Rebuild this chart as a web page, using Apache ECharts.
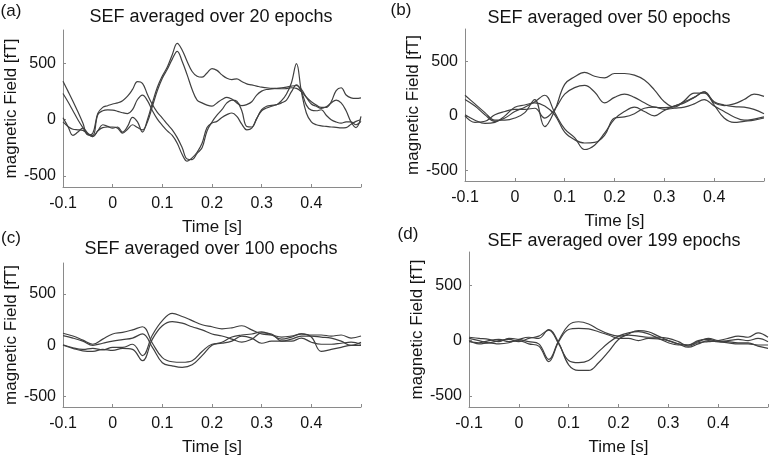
<!DOCTYPE html>
<html>
<head>
<meta charset="utf-8">
<script src="https://cdn.jsdelivr.net/npm/echarts@6/dist/echarts.min.js"></script>
<style>
  html, body { margin: 0; padding: 0; background: #fff; }
  #chart { width: 769px; height: 457px; }
</style>
</head>
<body>
<div id="chart"></div>
<script>
// time axes (s)
const timeFine = [-0.10,-0.09,-0.08,-0.07,-0.06,-0.05,-0.04,-0.03,-0.02,-0.01,
  0.00,0.01,0.02,0.03,0.04,0.05,0.06,0.07,0.08,0.09,
  0.10,0.11,0.12,0.13,0.14,0.15,0.16,0.17,0.18,0.19,
  0.20,0.21,0.22,0.23,0.24,0.25,0.26,0.27,0.28,0.29,
  0.30,0.31,0.32,0.33,0.34,0.35,0.36,0.37,0.38,0.39,
  0.40,0.41,0.42,0.43,0.44,0.45,0.46,0.47,0.48,0.49,0.50];
const timeCoarse = [-0.10,-0.08,-0.06,-0.04,-0.02,0.00,0.02,0.04,0.06,0.08,
  0.10,0.12,0.14,0.16,0.18,0.20,0.22,0.24,0.26,0.28,
  0.30,0.32,0.34,0.36,0.38,0.40,0.42,0.44,0.46,0.48,0.50];

// (a) 20 epochs, fT
const a1 = [343,255,165,70,-30,-135,-120,55,110,125,
  140,150,170,210,270,340,325,225,135,65,
  15,-40,-90,-160,-250,-350,-355,-300,-250,-100,
  -20,40,90,150,175,165,80,-60,-65,10,
  90,120,128,134,170,230,330,500,250,60,
  -20,-45,-55,-60,-65,-68,-72,-70,-40,-15,0];
const a2 = [234,160,80,0,-70,-130,-140,45,80,88,
  85,75,62,55,90,180,220,170,80,5,
  -50,-100,-140,-210,-310,-370,-340,-290,-210,-70,
  -30,-15,20,45,60,30,-40,-90,-75,10,
  80,104,120,134,150,175,250,310,250,130,
  85,80,89,40,0,-20,-30,-20,-20,-45,-15];
const a3 = [18,-60,-140,-110,-75,-120,-150,-100,-45,-60,
  -75,-65,-110,-60,20,-20,-110,0,150,290,
  390,470,580,680,620,520,430,388,379,417,
  456,440,400,370,358,365,340,320,310,300,
  290,285,280,278,276,278,285,280,250,200,
  160,130,110,110,160,260,285,220,195,190,195];
const a4 = [-20,-60,-85,-90,-95,-130,-150,-100,-70,-65,
  -65,-75,-120,-85,-45,-70,-90,-20,120,260,
  370,450,540,610,520,400,270,175,150,130,
  121,150,180,200,185,150,125,135,160,220,
  255,270,275,280,285,290,300,305,270,200,
  140,120,100,115,150,175,150,80,-20,-70,30];

// (b) 50 epochs
const b1 = [190,110,30,-40,-40,-20,30,150,-100,50,
  290,360,400,365,350,390,390,375,330,240,
  130,80,140,210,210,120,95,110,150,200,180];
const b2 = [0,-60,-50,10,40,60,60,70,-20,60,
  200,260,280,220,120,170,200,170,120,80,
  75,90,130,170,220,130,100,85,80,60,20];
const b3 = [150,90,10,-50,-20,40,80,130,190,30,
  -120,-200,-310,-270,-160,-30,40,80,40,0,
  50,90,120,170,220,100,-20,-60,-50,-40,-20];
const b4 = [10,-40,-70,-60,0,80,100,120,90,10,
  -150,-220,-250,-245,-180,-20,-10,20,70,80,
  60,70,80,110,150,90,40,-10,-40,-30,-10];

// (c) 100 epochs
const c1 = [117,90,50,10,60,110,125,150,180,20,
  -120,-160,-165,-150,-60,10,20,40,90,70,
  20,40,40,40,70,30,10,10,20,30,10];
const c2 = [94,70,40,0,20,40,55,70,110,-20,
  -170,-200,-215,-190,-100,0,30,80,100,110,
  130,100,60,80,110,80,-60,-40,-20,0,0];
const c3 = [5,-25,-40,-30,-45,-20,-20,10,-100,100,
  240,310,280,240,200,180,160,170,190,150,
  110,100,80,90,110,100,100,90,100,70,90];
const c4 = [0,-30,-55,-60,-40,-50,-30,-40,-150,60,
  190,230,215,180,150,110,90,60,30,60,
  120,110,40,60,90,90,80,70,40,0,30];

// (d) 199 epochs
const d1 = [30,20,10,-10,20,10,-10,-30,-170,0,
  140,170,150,100,60,40,50,40,30,30,
  20,-10,-50,-20,-10,0,20,40,30,70,30];
const d2 = [-10,-20,0,10,-10,0,-30,-50,-190,-10,
  100,110,105,80,50,20,20,0,20,15,
  0,-30,-60,-30,0,-10,0,10,0,20,-10];
const d3 = [20,0,-20,0,10,-10,20,40,95,-30,
  -180,-200,-180,-100,-20,40,70,80,60,20,
  -20,-40,-40,0,10,-10,-20,-30,-30,-40,-40];
const d4 = [0,-30,-20,-30,-20,10,30,20,100,-20,
  -220,-270,-270,-200,-100,10,60,90,80,40,
  0,-30,-40,-10,20,0,-10,-20,-20,-50,-70];

const xTicks = [-0.1, 0, 0.1, 0.2, 0.3, 0.4, 0.5];
const xLabels = [-0.1, 0, 0.1, 0.2, 0.3, 0.4];
const yTicks = [-500, 0, 500];

const panels = [
  { title: 'SEF averaged over 20 epochs', tag: '(a)', time: timeFine, lines: [a1, a2, a3, a4],
    grid: { left: 63, top: 30, width: 298, height: 157 }, titlePos: [211, 17], tagPos: [11, 11] },
  { title: 'SEF averaged over 50 epochs', tag: '(b)', time: timeCoarse, lines: [b1, b2, b3, b4],
    grid: { left: 465, top: 29, width: 299, height: 152 }, titlePos: [609, 18], tagPos: [401, 10] },
  { title: 'SEF averaged over 100 epochs', tag: '(c)', time: timeCoarse, lines: [c1, c2, c3, c4],
    grid: { left: 63, top: 263, width: 298, height: 144 }, titlePos: [211, 249], tagPos: [11, 238] },
  { title: 'SEF averaged over 199 epochs', tag: '(d)', time: timeCoarse, lines: [d1, d2, d3, d4],
    grid: { left: 469, top: 252, width: 299, height: 155 }, titlePos: [614, 241], tagPos: [408, 234] }
];

const FONT = "'Liberation Sans', Arial, sans-serif";
const TXT = '#141414';
const AXIS = '#8a8a8a';

const grids = [], xAxes = [], yAxes = [], series = [], texts = [];
panels.forEach((p, i) => {
  grids.push(p.grid);
  xAxes.push({
    type: 'value', gridIndex: i, min: -0.1, max: 0.5,
    name: 'Time [s]', nameLocation: 'middle', nameGap: 32,
    nameTextStyle: { fontSize: 17, color: TXT, fontFamily: FONT },
    axisLine: { onZero: false, lineStyle: { color: AXIS, width: 1 } },
    axisTick: { inside: true, length: 3, customValues: xTicks, lineStyle: { color: AXIS } },
    axisLabel: { customValues: xLabels, fontSize: 16, color: TXT, fontFamily: FONT, margin: 9 },
    splitLine: { show: false }
  });
  yAxes.push({
    type: 'value', gridIndex: i, min: -600, max: 800,
    name: 'magnetic Field [fT]', nameLocation: 'middle', nameGap: 42, nameRotate: 90,
    nameTextStyle: { fontSize: 17, color: TXT, fontFamily: FONT },
    axisLine: { show: true, onZero: false, lineStyle: { color: AXIS, width: 1 } },
    axisTick: { show: true, inside: true, length: 3, customValues: yTicks, lineStyle: { color: AXIS } },
    axisLabel: { customValues: yTicks, fontSize: 16, color: TXT, fontFamily: FONT, margin: 7 },
    splitLine: { show: false }
  });
  p.lines.forEach(vals => {
    series.push({
      type: 'line', xAxisIndex: i, yAxisIndex: i,
      data: p.time.map((t, k) => [t, vals[k]]),
      showSymbol: false, smooth: 0.4,
      lineStyle: { color: '#404040', width: 1.2 }
    });
  });
  texts.push({
    type: 'text', x: p.titlePos[0], y: p.titlePos[1],
    style: { text: p.title, fontSize: 18, fill: TXT, fontFamily: FONT, textAlign: 'center', textVerticalAlign: 'middle' }
  });
  texts.push({
    type: 'text', x: p.tagPos[0], y: p.tagPos[1],
    style: { text: p.tag, fontSize: 17, fill: TXT, fontFamily: FONT, textAlign: 'center', textVerticalAlign: 'middle' }
  });
});

const chart = echarts.init(document.getElementById('chart'));
chart.setOption({
  animation: false,
  backgroundColor: '#fff',
  grid: grids,
  xAxis: xAxes,
  yAxis: yAxes,
  series: series,
  graphic: texts
});
</script>
</body>
</html>
